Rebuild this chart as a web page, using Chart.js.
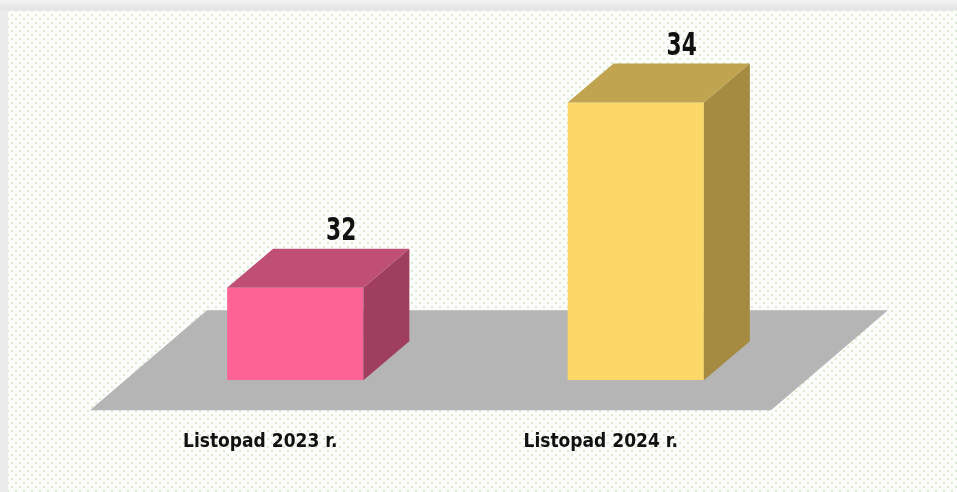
<!DOCTYPE html>
<html>
<head>
<meta charset="utf-8">
<script src="https://cdn.jsdelivr.net/npm/chart.js@4.4.1/dist/chart.umd.min.js"></script>
<style>
    html, body { margin: 0; padding: 0; }
    body {
        width: 957px;
        height: 492px;
        overflow: hidden;
        position: relative;
        background: linear-gradient(to bottom, #f3f3f3 0px, #e4e4e4 9px, #ececec 11px, #ececec 100%);
    }
    #karta {
        position: absolute;
        left: 8px;
        top: 11px;
        right: 0;
        bottom: 0;
        background-color: #fdfefc;
        background-image:
            radial-gradient(circle, #d9ebd1 0.9px, transparent 1.4px),
            radial-gradient(circle, #d9ebd1 0.9px, transparent 1.4px);
        background-size: 8px 8px, 8px 8px;
        background-position: 0 0, 4px 4px;
    }
    #wrap {
        position: absolute;
        left: 0;
        top: 0;
        width: 957px;
        height: 492px;
    }
</style>
</head>
<body>
<div id="karta"></div>
<div id="wrap"><canvas id="barChart"></canvas></div>
<script>
const kategorie = ['Listopad 2023 r.', 'Listopad 2024 r.'];
const wartosci = [32, 34];
const osY = { min: 31, max: 35 };

const kolorPrzod = ['#fd6495', '#fcd868'];
const kolorGora = ['#bf4f75', '#c1a44f'];
const kolorBok = ['#a03e60', '#a48b41'];

// przesuniecie glebi (3D)
const glebia = { dx: 46, dy: -39 };

const efekt3d = {
    id: 'efekt3d',
    beforeDatasetsDraw(chart) {
        const ctx = chart.ctx;
        const area = chart.chartArea;
        const baza = chart.scales.y.getPixelForValue(osY.min);
        // podloga
        ctx.save();
        ctx.fillStyle = '#b5b5b5';
        ctx.beginPath();
        ctx.moveTo(area.left - 35, baza + 30);
        ctx.lineTo(area.right - 35, baza + 30);
        ctx.lineTo(area.right + 82, baza - 70);
        ctx.lineTo(area.left + 82, baza - 70);
        ctx.closePath();
        ctx.fill();
        ctx.restore();
    },
    afterDatasetsDraw(chart) {
        const ctx = chart.ctx;
        const meta = chart.getDatasetMeta(0);
        const baza = chart.scales.y.getPixelForValue(osY.min);
        meta.data.forEach(function (bar, i) {
            const l = bar.x - bar.width / 2;
            const r = bar.x + bar.width / 2;
            const t = bar.y;
            const b = baza;
            ctx.save();
            // gora
            ctx.fillStyle = kolorGora[i];
            ctx.beginPath();
            ctx.moveTo(l, t);
            ctx.lineTo(r, t);
            ctx.lineTo(r + glebia.dx, t + glebia.dy);
            ctx.lineTo(l + glebia.dx, t + glebia.dy);
            ctx.closePath();
            ctx.fill();
            // bok
            ctx.fillStyle = kolorBok[i];
            ctx.beginPath();
            ctx.moveTo(r, t);
            ctx.lineTo(r + glebia.dx, t + glebia.dy);
            ctx.lineTo(r + glebia.dx, b + glebia.dy);
            ctx.lineTo(r, b);
            ctx.closePath();
            ctx.fill();
            // etykieta wartosci (zwezona)
            ctx.translate(bar.x + glebia.dx, t + glebia.dy - 9);
            ctx.scale(0.68, 1);
            ctx.fillStyle = '#111111';
            ctx.font = 'bold 32px "DejaVu Sans", sans-serif';
            ctx.textAlign = 'center';
            ctx.textBaseline = 'alphabetic';
            ctx.fillText(String(wartosci[i]), 0, 0);
            ctx.restore();
        });
    }
};

const barCtx = document.getElementById('barChart').getContext('2d');

const barChart = new Chart(barCtx, {
    type: 'bar',
    data: {
        labels: kategorie,
        datasets: [{
            data: wartosci,
            base: osY.min,
            backgroundColor: kolorPrzod,
            borderWidth: 0,
            barPercentage: 0.4,
            categoryPercentage: 1
        }]
    },
    options: {
        responsive: true,
        maintainAspectRatio: false,
        animation: false,
        layout: {
            padding: { top: 10, left: 125, right: 151, bottom: -11 }
        },
        plugins: {
            legend: { display: false },
            tooltip: { enabled: false }
        },
        scales: {
            x: {
                grid: { display: false, drawTicks: false },
                border: { display: false },
                ticks: {
                    color: '#111111',
                    padding: 50,
                    labelOffset: -35,
                    font: {
                        family: '"DejaVu Sans Condensed", "DejaVu Sans", sans-serif',
                        size: 19,
                        weight: 'bold'
                    }
                }
            },
            y: {
                display: false,
                min: osY.min,
                max: osY.max
            }
        }
    },
    plugins: [efekt3d]
});
</script>
</body>
</html>
